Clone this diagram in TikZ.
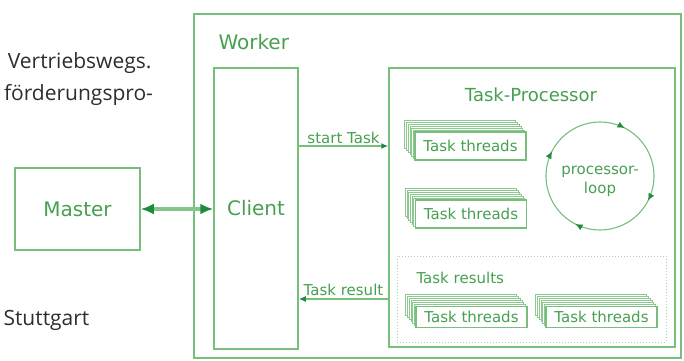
\documentclass[tikz,border=0pt]{standalone}
\usepackage{fontspec}
\setmainfont{DejaVu Sans}
\newfontfamily\pagefont{Open Sans}
\usetikzlibrary{arrows.meta,shadows,decorations.markings}
\definecolor{LineClr}{RGB}{120,190,125}
\definecolor{TextClr}{RGB}{70,160,80}
\definecolor{TipClr}{RGB}{30,140,60}
\definecolor{DotClr}{RGB}{170,212,172}
\definecolor{PageClr}{RGB}{45,45,45}

\begin{document}
\begin{tikzpicture}[x=1pt,y=-1pt,
  box/.style={draw=LineClr,line width=1.5pt,inner sep=0pt,text=TextClr},
  bigtxt/.style={text=TextClr,font=\fontsize{20}{24}\selectfont},
  smalltxt/.style={text=TextClr,font=\fontsize{15}{19}\selectfont},
  pagetxt/.style={text=PageClr,font=\pagefont\fontsize{21}{25}\selectfont},
  threadcopy/.style={draw=LineClr!85,line width=.8pt,fill=white},
  threads/.style={draw=LineClr,line width=1.2pt,fill=white,smalltxt,
    minimum width=111pt,inner sep=0pt,
    copy shadow={threadcopy,shadow xshift=-10.2pt,shadow yshift=12pt},
    copy shadow={threadcopy,shadow xshift=-8.5pt,shadow yshift=10pt},
    copy shadow={threadcopy,shadow xshift=-6.8pt,shadow yshift=8pt},
    copy shadow={threadcopy,shadow xshift=-5.1pt,shadow yshift=6pt},
    copy shadow={threadcopy,shadow xshift=-3.4pt,shadow yshift=4pt},
    copy shadow={threadcopy,shadow xshift=-1.7pt,shadow yshift=2pt}},
  flow/.style={draw=LineClr,line width=1.3pt,-{Latex[length=7pt,width=6pt,color=TipClr]}},
  bigflow/.style={draw=LineClr!90,line width=3.5pt,
    {Latex[length=13pt,width=11pt,color=TipClr]}-{Latex[length=13pt,width=11pt,color=TipClr]}},
  looptip/.style={postaction={decorate},decoration={markings,
    mark=at position 0.075 with {\arrow[color=TipClr]{Latex[length=7pt,width=6pt]}},
    mark=at position 0.325 with {\arrow[color=TipClr]{Latex[length=7pt,width=6pt]}},
    mark=at position 0.575 with {\arrow[color=TipClr]{Latex[length=7pt,width=6pt]}},
    mark=at position 0.825 with {\arrow[color=TipClr]{Latex[length=7pt,width=6pt]}}}}]
\useasboundingbox (0,0) rectangle (684,360);

% Κείμενο της σελίδας.
\node[pagetxt,anchor=base east] (line1) at (155,68) {Vertriebswegs.};
\node[pagetxt,anchor=base west] (line2) at (0.5,100) {förderungspro-};
\node[pagetxt,anchor=base west] (line3) at (0,325) {Stuttgart};

% Κουτιά.
\node[box,minimum width=487pt,minimum height=344pt] (worker) at (437.5,186) {};
\node[bigtxt,anchor=west] (workerlbl) at (215,42) {Worker};
\node[box,bigtxt,minimum width=125pt,minimum height=82pt] (master) at (77.5,209) {Master};
\node[box,bigtxt,minimum width=84pt,minimum height=281pt] (client) at (256,208.5) {Client};
\node[box,minimum width=286pt,minimum height=279pt] (tp) at (532,207.5) {};
\node[text=TextClr,font=\fontsize{18}{22}\selectfont] (tplbl) at (531,95) {Task-Processor};
\node[draw=DotClr,line width=1pt,dotted,minimum width=269pt,minimum height=86pt] (results) at (531.5,299) {};
\node[smalltxt,anchor=west] (resultslbl) at (413,278) {Task results};

% Task threads.
\node[threads,minimum height=28pt] (t1) at (470.5,146) {Task threads};
\node[threads,minimum height=28pt] (t2) at (471,214) {Task threads};
\node[threads,minimum height=21pt] (t3) at (471.5,317) {Task threads};
\node[threads,minimum height=21pt] (t4) at (601.5,317) {Task threads};

% Βρόχος.
\node[circle,draw=LineClr,line width=1.1pt,minimum size=108pt] (loop) at (600,176) {};
\node[smalltxt,align=center] (looplbl) at (600,181) {processor-\\loop};
\path[looptip] (loop.center) circle[radius=54];

% Βέλη.
\draw[bigflow] (master.east) -- (client.west |- master.east);
\draw[flow] (client.east |- t1.west) -- node[smalltxt,above,inner sep=2pt] (startlbl) {start Task} (tp.west |- t1.west);
\draw[flow] (tp.west |- results.west) -- node[smalltxt,above,inner sep=3pt] (resultlbl) {Task result} (client.east |- results.west);

\end{tikzpicture}
\end{document}
